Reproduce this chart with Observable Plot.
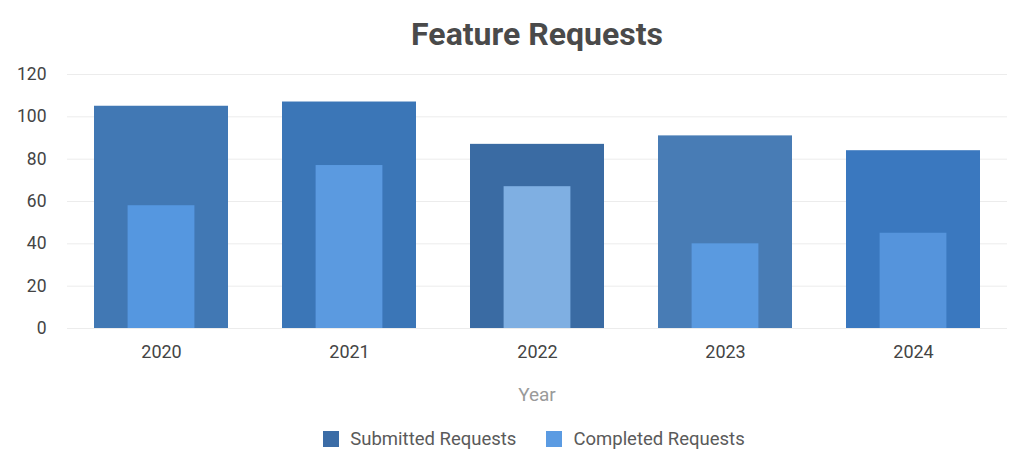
<!DOCTYPE html>
<html><head><meta charset="utf-8">
<script src="https://cdn.jsdelivr.net/npm/d3@7"></script>
<script src="https://cdn.jsdelivr.net/npm/@observablehq/plot@0.6"></script>
<style>
body{margin:0;background:#fff;font-family:Roboto,sans-serif;width:1024px;}
#title{height:60px;line-height:68px;text-align:center;font-size:32px;font-weight:700;color:#4a4a4a;padding-left:50px;box-sizing:border-box;}
#chart svg{display:block;}
#xlabel{height:50px;line-height:50px;text-align:center;font-size:19px;color:#9a9a9a;padding-left:50px;box-sizing:border-box;}
#legend{height:38px;display:flex;justify-content:center;align-items:center;font-size:18.5px;color:#5a5a5a;padding-left:44px;box-sizing:border-box;}
.item{display:flex;align-items:center;margin:0 15px;}
.sw{width:16px;height:16px;margin-right:11px;}
</style></head><body>
<div id="title">Feature Requests</div>
<div id="chart"></div>
<div id="xlabel">Year</div>
<div id="legend"></div>
<script>
const years = ["2020", "2021", "2022", "2023", "2024"];
const submitted = [105, 107, 87, 91, 84];
const completed = [58, 77, 67, 40, 45];
const submittedColors = ["#4178b4", "#3b76b7", "#3a6ba3", "#487cb5", "#3a78bf"];
const completedColors = ["#5597e0", "#5b9ae0", "#7fafe2", "#5a9ae0", "#5594dc"];
const seriesNames = ["Submitted Requests", "Completed Requests"];
const legendColors = ["#3b6ca6", "#5b9be2"];
const yTicks = [0, 20, 40, 60, 80, 100, 120];

const data = years.map((y, i) => ({
  year: y, submitted: submitted[i], completed: completed[i],
  sc: submittedColors[i], cc: completedColors[i]
}));

const plot = Plot.plot({
  width: 1024, height: 310,
  marginTop: 14, marginLeft: 67, marginRight: 17, marginBottom: 42,
  style: {fontFamily: "Roboto, sans-serif", background: "#fff"},
  color: {type: "identity"},
  x: {domain: years, paddingInner: 0.286, paddingOuter: 0.143},
  y: {domain: [0, 120]},
  marks: [
    Plot.gridY(yTicks, {stroke: "#ececec", strokeOpacity: 1}),
    Plot.barY(data, {x: "year", y: "submitted", fill: "sc"}),
    Plot.barY(data, {x: "year", y: "completed", fill: "cc", insetLeft: 33.6, insetRight: 33.6}),
    Plot.axisX({tickSize: 0, tickPadding: 17, label: null, fontSize: 18, fill: "#444"}),
    Plot.axisY(yTicks, {tickSize: 0, tickPadding: 21, label: null, fontSize: 17.5, fill: "#444"})
  ]
});
document.getElementById("chart").appendChild(plot);

const legend = document.getElementById("legend");
seriesNames.forEach((name, i) => {
  const it = document.createElement("div");
  it.className = "item";
  const sw = document.createElement("div");
  sw.className = "sw";
  sw.style.background = legendColors[i];
  const t = document.createElement("span");
  t.textContent = name;
  it.appendChild(sw); it.appendChild(t);
  legend.appendChild(it);
});
</script>
</body></html>
